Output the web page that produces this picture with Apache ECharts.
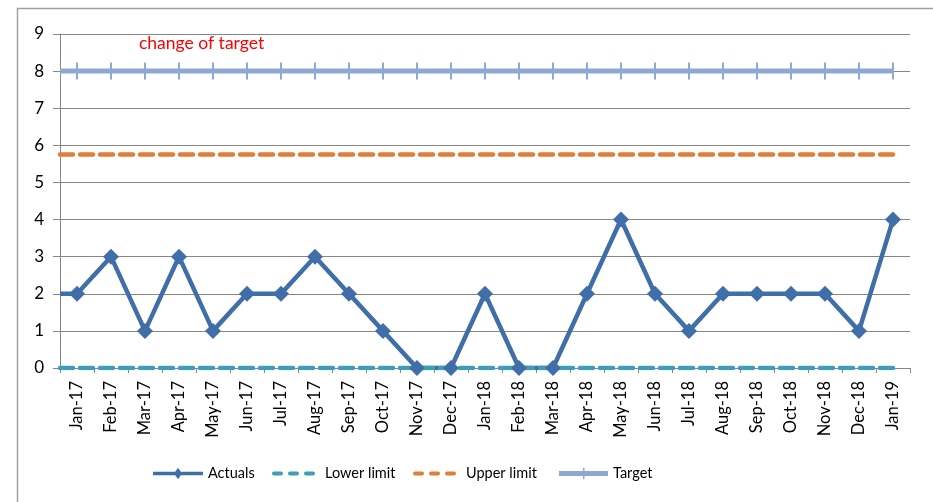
<!DOCTYPE html>
<html>
<head>
<meta charset="utf-8">
<script src="https://cdn.jsdelivr.net/npm/echarts@6/dist/echarts.min.js"></script>
<style>
  html, body { margin: 0; padding: 0; background: #fff; }
  #chart { width: 933px; height: 502px; }
</style>
</head>
<body>
<div id="chart"></div>
<script>
// Monthly categories
var months = ['Jan-17','Feb-17','Mar-17','Apr-17','May-17','Jun-17','Jul-17','Aug-17','Sep-17','Oct-17','Nov-17','Dec-17',
              'Jan-18','Feb-18','Mar-18','Apr-18','May-18','Jun-18','Jul-18','Aug-18','Sep-18','Oct-18','Nov-18','Dec-18','Jan-19'];
// Series values
var actuals    = [2,3,1,3,1,2,2,3,2,1,0,0,2,0,0,2,4,2,1,2,2,2,2,1,4];
var lowerLimit = months.map(function () { return 0; });
var upperLimit = months.map(function () { return 5.75; });
var target     = months.map(function () { return 8; });
var yTicks = [0,1,2,3,4,5,6,7,8,9];

var FONT = 'Lato, "Open Sans", sans-serif';

var BLUE = '#3f6ea9', TEAL = '#3d9fb5', ORANGE = '#e07e38', LIGHT = '#8ea8d2';

// Each series runs in from the left edge of the plot, then through every month.
function toPoints(values) {
  var pts = [{ value: [-0.5, values[0]], symbol: 'none' }];
  values.forEach(function (v, i) { pts.push([i, v]); });
  return pts;
}

// Legend glyphs: a line with its marker, or a row of three dashes
var ICON_ACTUALS = 'path://M0,4h50v3.5h-50z M25,0l4,5.75l-4,5.75l-4,-5.75z';
var ICON_DASHES  = 'path://M2,0h7a2,2 0 0 1 0,4h-7a2,2 0 0 1 0,-4z M18,0h7a2,2 0 0 1 0,4h-7a2,2 0 0 1 0,-4z M34,0h7a2,2 0 0 1 0,4h-7a2,2 0 0 1 0,-4z';
var ICON_TARGET  = 'path://M0,3.5h51v5h-51z M25,0h1.5v12h-1.5z';

var chart = echarts.init(document.getElementById('chart'), null, { renderer: 'canvas' });

function legendAt(name, left, top, icon, w, h, gap) {
  return {
    data: [{ name: name, icon: icon }], left: left, top: top,
    itemWidth: w, itemHeight: h, itemGap: 0, padding: 0,
    textStyle: { fontFamily: FONT, fontSize: 14.5, color: '#000', padding: [0, 0, 0, gap] },
    selectedMode: false
  };
}

chart.setOption({
  animation: false,
  backgroundColor: '#fff',
  grid: { left: 60, right: 23, top: 34, bottom: 134 },
  graphic: [
    { type: 'rect', shape: { x: 17.5, y: 8.5, width: 1000, height: 600 },
      style: { fill: 'none', stroke: '#a0a0a0', lineWidth: 1.5 }, silent: true },
    { type: 'text', left: 139, top: 34,
      style: { text: 'change of target', fill: '#ff0000', fontFamily: FONT, fontSize: 17.5 } }
  ],
  legend: [
    legendAt('Actuals', 153, 466, ICON_ACTUALS, 50, 11.5, 0),
    legendAt('Lower limit', 272, 466, ICON_DASHES, 43, 4, 5),
    legendAt('Upper limit', 413, 466, ICON_DASHES, 43, 4, 5),
    legendAt('Target', 559, 466, ICON_TARGET, 49, 12, 0)
  ],
  xAxis: [
    {
      type: 'category', data: months, boundaryGap: true,
      axisLine: { show: true, lineStyle: { color: '#868686', width: 1 } },
      axisTick: { show: true, length: 5, alignWithLabel: false, lineStyle: { color: '#868686' } },
      axisLabel: { rotate: 90, interval: 0, margin: 13, fontFamily: FONT, fontSize: 16.5, color: '#000' },
      splitLine: { show: false }
    },
    { type: 'value', min: -0.5, max: 24.5, show: false }
  ],
  yAxis: {
    type: 'value', min: yTicks[0], max: yTicks[yTicks.length - 1], interval: 1,
    axisLine: { show: true, onZero: false, lineStyle: { color: '#868686', width: 1 } },
    axisTick: { show: true, inside: false, length: 7, lineStyle: { color: '#868686' } },
    axisLabel: { margin: 16, fontFamily: FONT, fontSize: 17, color: '#000' },
    splitLine: { show: true, lineStyle: { color: '#868686', width: 1 } }
  },
  series: [
    {
      name: 'Actuals', type: 'line', xAxisIndex: 1, data: toPoints(actuals),
      symbol: 'diamond', symbolSize: 16,
      lineStyle: { color: BLUE, width: 4.5 },
      itemStyle: { color: BLUE }
    },
    {
      name: 'Lower limit', type: 'line', xAxisIndex: 1, data: toPoints(lowerLimit),
      symbol: 'none',
      lineStyle: { color: TEAL, width: 4.5, type: [13, 7], cap: 'round' },
      itemStyle: { color: TEAL }
    },
    {
      name: 'Upper limit', type: 'line', xAxisIndex: 1, data: toPoints(upperLimit),
      symbol: 'none',
      lineStyle: { color: ORANGE, width: 4.5, type: [13, 7], cap: 'round' },
      itemStyle: { color: ORANGE }
    },
    {
      name: 'Target', type: 'line', xAxisIndex: 1, data: toPoints(target),
      symbol: 'rect', symbolSize: [2, 17],
      lineStyle: { color: LIGHT, width: 5 },
      itemStyle: { color: LIGHT }
    }
  ]
});
</script>
</body>
</html>
